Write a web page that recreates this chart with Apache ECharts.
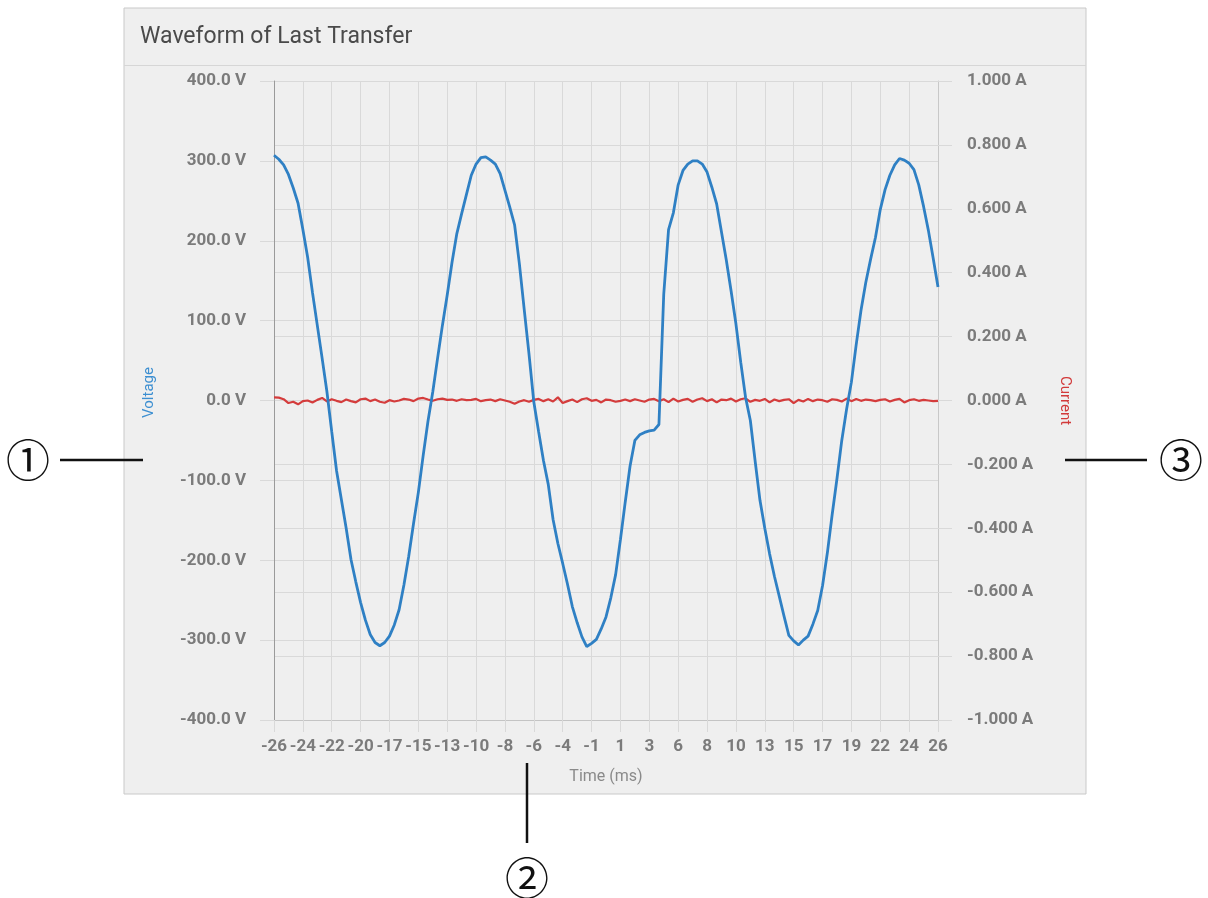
<!DOCTYPE html>
<html>
<head>
<meta charset="utf-8">
<script src="https://cdn.jsdelivr.net/npm/echarts@6/dist/echarts.min.js"></script>
<style>
html,body{margin:0;padding:0;background:#ffffff;}
#chart{width:1208px;height:898px;}
</style>
</head>
<body>
<div id="chart"></div>
<script>
// ---- data ----
const titleText = 'Waveform of Last Transfer';
const xTickLabels = ['-26','-24','-22','-20','-17','-15','-13','-10','-8','-6','-4','-1','1','3','6','8','10','13','15','17','19','22','24','26'];
const samplesPerTick = 6;
const voltage = [
  307, 302, 295, 283, 266, 247, 214, 179, 135, 94,
  53, 11, -39, -88, -124, -160, -199, -227, -253, -275,
  -293, -303, -307, -303, -295, -281, -262, -231, -195, -154,
  -115, -69, -26, 11, 53, 94, 132, 173, 209, 234,
  258, 282, 296, 304, 305, 301, 296, 284, 263, 242,
  220, 171, 114, 58, -2, -39, -75, -105, -149, -179,
  -204, -230, -258, -278, -296, -308, -304, -299, -286, -271,
  -247, -218, -174, -127, -82, -50, -43, -40, -38, -37,
  -30, 133, 214, 235, 270, 288, 296, 300, 300, 296,
  286, 267, 246, 211, 176, 137, 96, 48, 4, -25,
  -76, -125, -160, -192, -220, -245, -270, -294, -301, -306,
  -300, -295, -280, -263, -232, -191, -143, -98, -50, -11,
  23, 70, 113, 148, 177, 204, 239, 264, 282, 295,
  303, 301, 297, 289, 270, 243, 213, 178, 142
];
const current = [
  0.010, 0.009, 0.004, -0.008, -0.004, -0.012, -0.002, 0.000, -0.006, 0.002,
  0.008, -0.003, 0.004, -0.001, -0.005, 0.003, -0.002, -0.006, 0.004, 0.006,
  -0.002, 0.003, -0.004, -0.007, 0.001, -0.003, 0.000, 0.005, 0.003, -0.002,
  0.006, 0.008, 0.003, -0.001, 0.004, 0.006, 0.002, 0.003, -0.001, 0.004,
  0.001, 0.002, 0.005, -0.002, 0.001, 0.003, -0.002, 0.004, 0.000, -0.004,
  -0.010, -0.003, 0.001, -0.004, 0.002, 0.005, -0.002, 0.004, -0.003, 0.010,
  -0.008, -0.002, 0.003, -0.005, 0.004, 0.007, -0.001, 0.002, -0.006, 0.003,
  0.001, -0.004, -0.001, 0.003, -0.002, 0.004, 0.000, -0.004, 0.003, 0.005,
  -0.002, 0.004, -0.005, 0.006, -0.003, 0.002, 0.005, -0.004, 0.003, 0.007,
  -0.002, 0.004, -0.006, 0.003, 0.001, 0.006, -0.003, 0.004, 0.007, -0.004,
  0.002, -0.001, 0.005, -0.006, 0.003, -0.002, 0.002, 0.004, -0.008, 0.002,
  -0.003, 0.005, -0.002, 0.003, 0.001, -0.004, 0.004, 0.002, -0.003, 0.006,
  -0.002, 0.005, -0.001, 0.003, 0.001, -0.002, 0.002, 0.004, -0.003, 0.002,
  0.005, -0.006, 0.001, 0.004, -0.001, 0.002, 0.000, -0.002, -0.001
];
const voltageName = 'Voltage';
const currentName = 'Current';
const xName = 'Time (ms)';
const callouts = ['\u2460', '\u2461', '\u2462'];

// ---- chart ----
const chart = echarts.init(document.getElementById('chart'), null, {renderer: 'canvas'});
const toXY = (arr) => arr.map((v, i) => [i / samplesPerTick, v]);
const labelStyle = {color: '#7b7b7b', fontFamily: 'Roboto', fontWeight: 'bold', fontSize: 17};
const gridColor = '#d9d9d9';

const option = {
  animation: false,
  backgroundColor: '#ffffff',
  title: {
    text: titleText, left: 135, top: 21,
    textStyle: {fontFamily: 'Roboto', fontWeight: 'normal', fontSize: 23, color: '#4a4a4a'}
  },
  grid: {left: 274, right: 270, top: 81, bottom: 178, containLabel: false},
  xAxis: {
    type: 'value', min: 0, max: xTickLabels.length - 1, interval: 1,
    name: xName, nameLocation: 'middle', nameGap: 49,
    nameTextStyle: {fontFamily: 'Roboto', fontSize: 16, color: '#8a8a8a'},
    axisLine: {show: true, onZero: false, lineStyle: {color: '#c4c4c4', width: 1}},
    axisTick: {show: true, length: 12, lineStyle: {color: gridColor}},
    splitLine: {show: true, lineStyle: {color: gridColor, width: 1}},
    axisLabel: Object.assign({margin: 18, formatter: (v) => xTickLabels[Math.round(v)]}, labelStyle)
  },
  yAxis: [
    {
      type: 'value', min: -400, max: 400, interval: 100, position: 'left',
      name: voltageName, nameLocation: 'middle', nameGap: 117, nameRotate: 90,
      nameTextStyle: {fontFamily: 'Roboto', fontSize: 15, color: '#3d8fd1', padding: [0, 0, 0, 16]},
      axisLine: {show: true, lineStyle: {color: '#9a9a9a', width: 1}},
      axisTick: {show: true, length: 14, lineStyle: {color: gridColor}},
      splitLine: {show: true, lineStyle: {color: gridColor, width: 1}},
      axisLabel: Object.assign({margin: 28, formatter: (v) => v.toFixed(1) + ' V'}, labelStyle)
    },
    {
      type: 'value', min: -1, max: 1, interval: 0.2, position: 'right',
      name: currentName, nameLocation: 'middle', nameGap: 119, nameRotate: -90,
      nameTextStyle: {fontFamily: 'Roboto', fontSize: 15, color: '#d23a3a'},
      axisLine: {show: true, lineStyle: {color: '#c8c8c8', width: 1}},
      axisTick: {show: true, length: 14, lineStyle: {color: gridColor}},
      splitLine: {show: true, lineStyle: {color: gridColor, width: 1}},
      axisLabel: Object.assign({margin: 29, formatter: (v) => v.toFixed(3) + ' A'}, labelStyle)
    }
  ],
  series: [
    {
      name: currentName, type: 'line', yAxisIndex: 1, data: toXY(current),
      showSymbol: false, smooth: false, z: 3,
      lineStyle: {color: '#d43c3c', width: 2.2}
    },
    {
      name: voltageName, type: 'line', yAxisIndex: 0, data: toXY(voltage),
      showSymbol: false, smooth: false, z: 4,
      lineStyle: {color: '#2f80c4', width: 2.8}
    }
  ],
  graphic: [
    {type: 'rect', z: -100, shape: {x: 124, y: 8, width: 962, height: 786},
     style: {fill: '#efefef', stroke: '#c9c9c9', lineWidth: 1}},
    {type: 'line', z: -99, shape: {x1: 124, y1: 65.5, x2: 1086, y2: 65.5},
     style: {stroke: '#d6d6d6', lineWidth: 1}},
    {type: 'line', z: 10, shape: {x1: 60, y1: 460, x2: 143, y2: 460}, style: {stroke: '#111', lineWidth: 2.5}},
    {type: 'line', z: 10, shape: {x1: 527, y1: 763, x2: 527, y2: 843}, style: {stroke: '#111', lineWidth: 2.5}},
    {type: 'line', z: 10, shape: {x1: 1065, y1: 460, x2: 1147, y2: 460}, style: {stroke: '#111', lineWidth: 2.5}},
    {type: 'text', z: 10, x: 28, y: 460, style: {text: callouts[0], fontFamily: 'Noto Sans CJK JP', fontSize: 44, fill: '#111', align: 'center', verticalAlign: 'middle'}},
    {type: 'text', z: 10, x: 527, y: 878, style: {text: callouts[1], fontFamily: 'Noto Sans CJK JP', fontSize: 44, fill: '#111', align: 'center', verticalAlign: 'middle'}},
    {type: 'text', z: 10, x: 1181, y: 460, style: {text: callouts[2], fontFamily: 'Noto Sans CJK JP', fontSize: 44, fill: '#111', align: 'center', verticalAlign: 'middle'}}
  ]
};
chart.setOption(option);
</script>
</body>
</html>
